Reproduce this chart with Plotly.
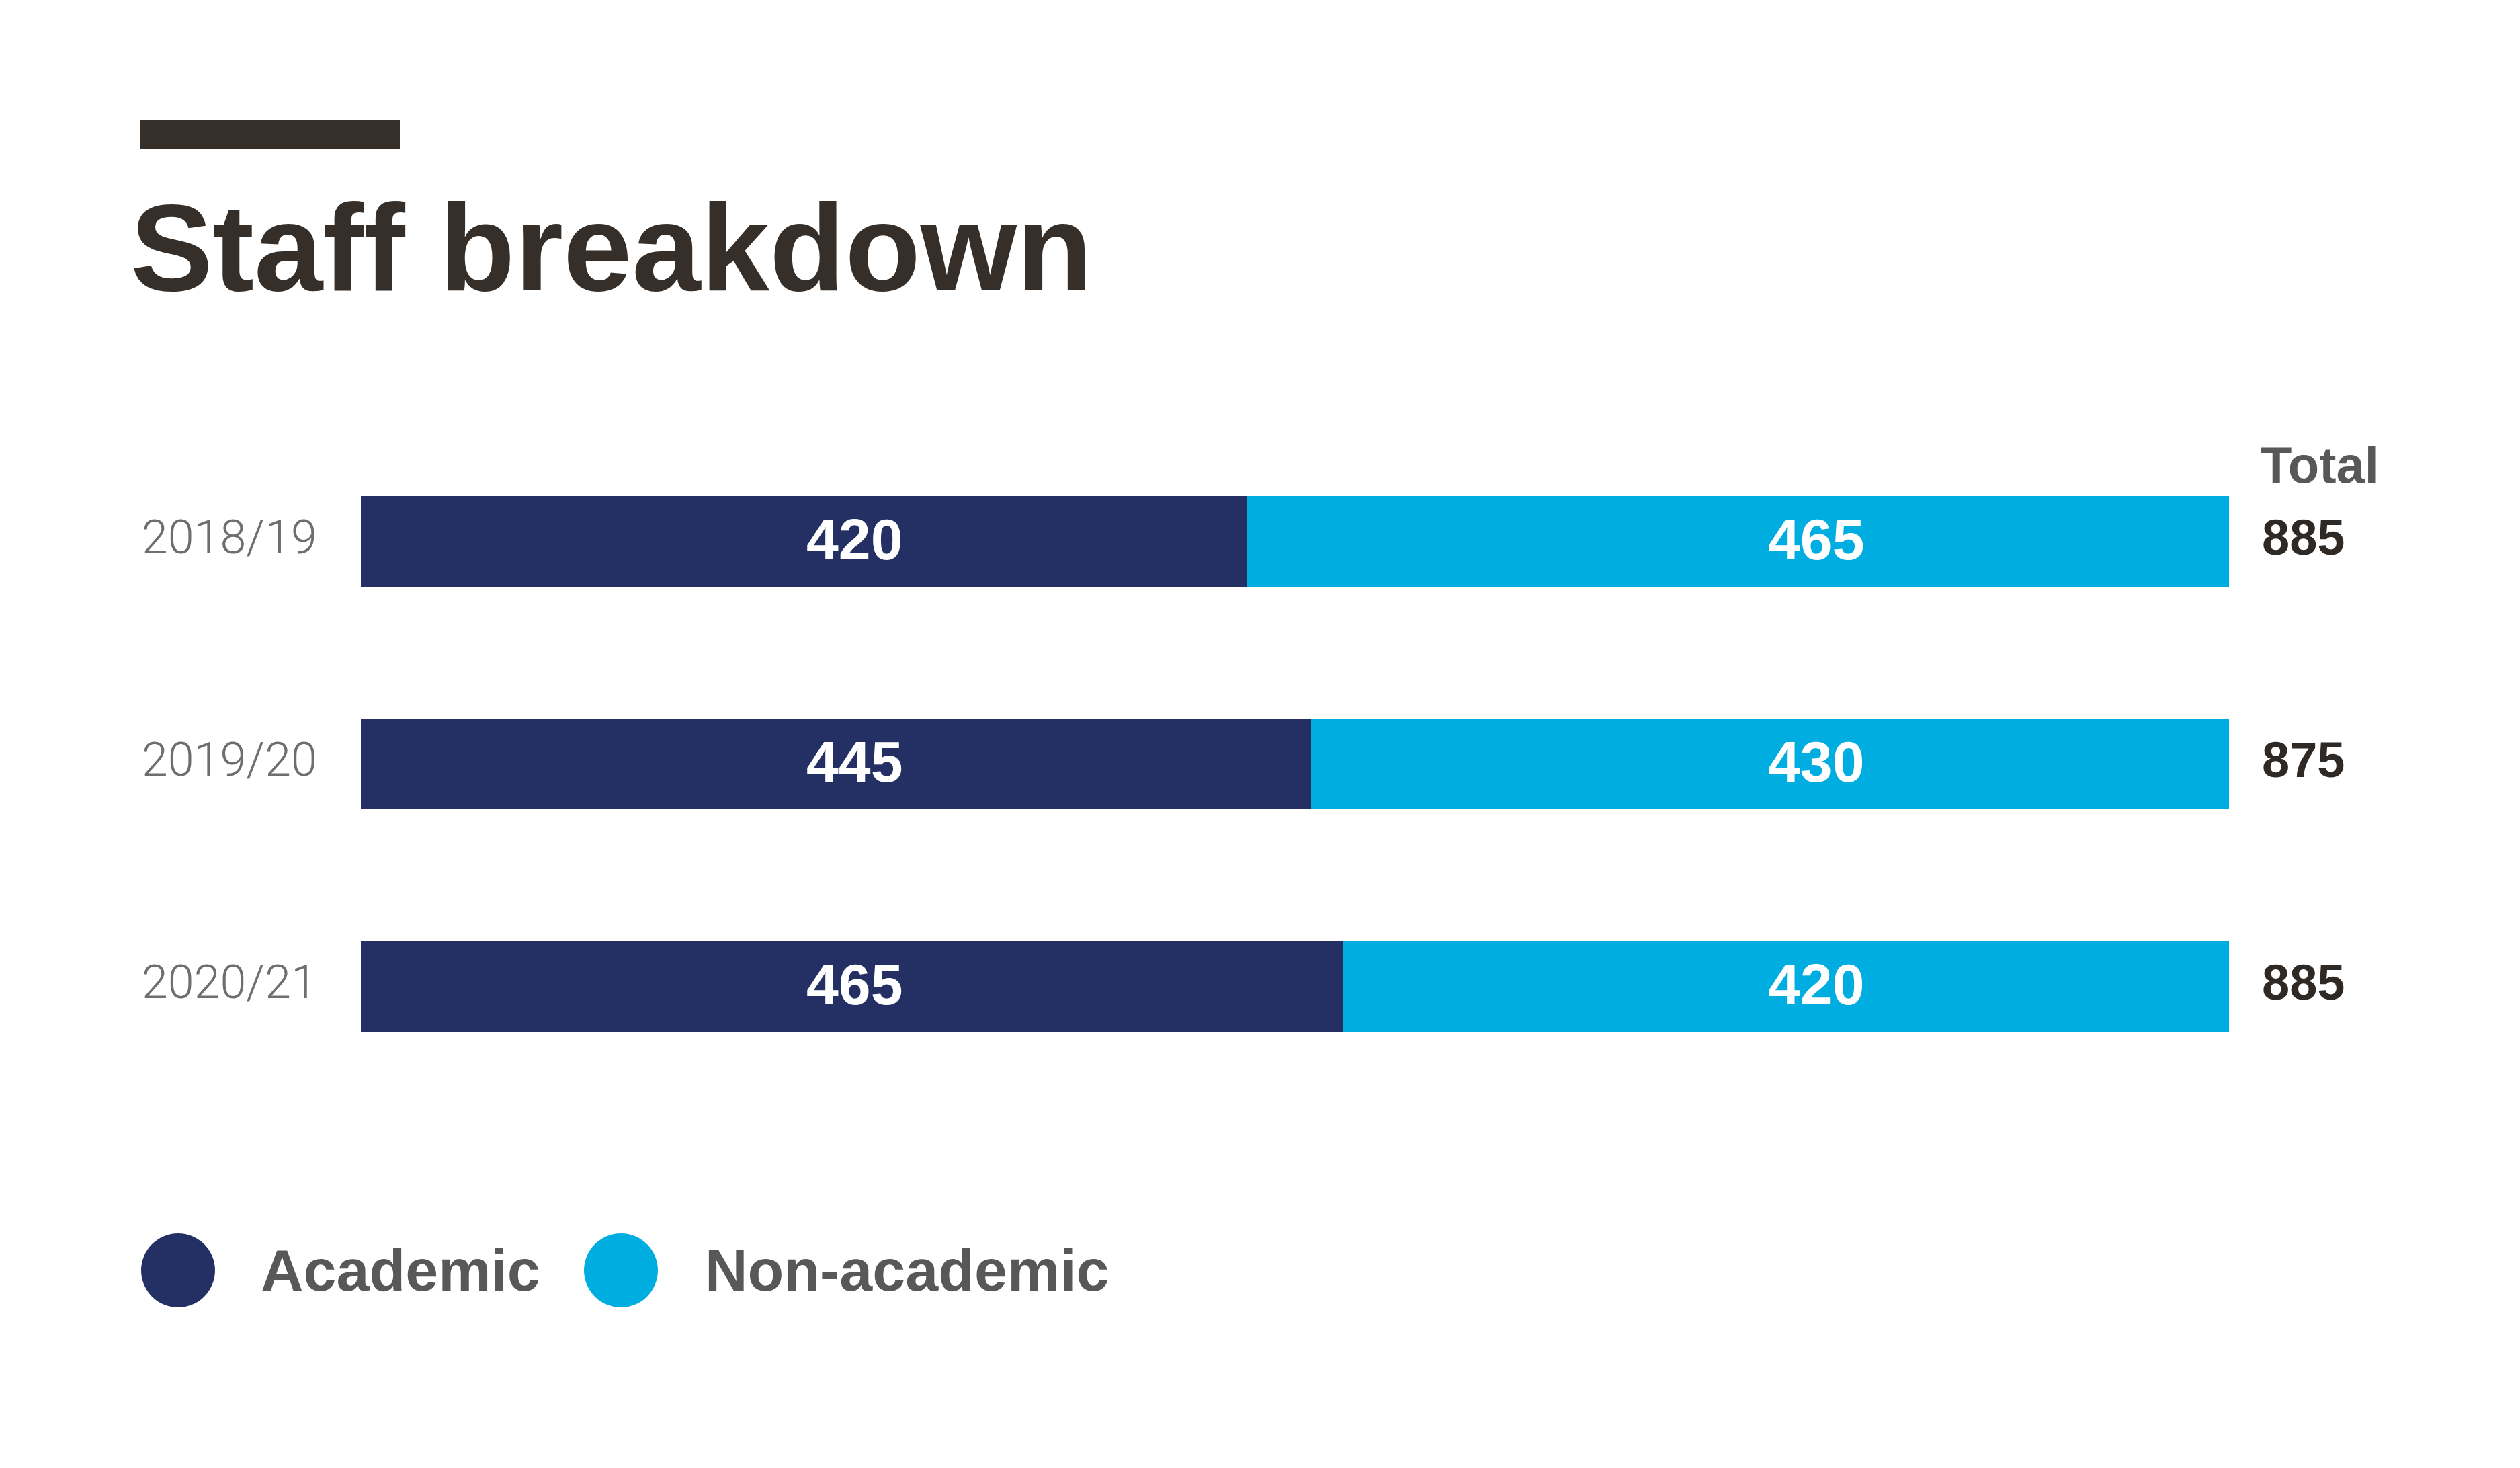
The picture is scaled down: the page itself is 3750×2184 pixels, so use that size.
import plotly.graph_objects as go

## Data
years = ["2018/19", "2019/20", "2020/21"]
academic = [420, 445, 465]
non_academic = [465, 430, 420]
series_names = ["Academic", "Non-academic"]
series_colors = ["#243064", "#00ADE1"]
totals = [a + n for a, n in zip(academic, non_academic)]

## Canvas & plot area (pixels, as measured on the reference)
W, H = 3750, 2184
OFF = 8  # the page body adds an 8px margin, so pull everything back by that much
L, R, T, B = 537 - OFF, 433 + OFF, 640 - OFF, 551 + OFF

def px_x(p):
    # reference pixel x -> paper x
    return (p - OFF - L) / (W - L - R)

def px_y(p):
    # reference pixel y -> paper y
    return (H - B - (p - OFF)) / (H - T - B)

TITLE_COLOR = "#352E29"
GREY = "#585858"

fig = go.Figure()

## --- Stacked bars (normalised to full width) --- ##
for name, vals, col in zip(series_names, [academic, non_academic], series_colors):
    fig.add_trace(go.Bar(
        y=years, x=vals, name=name, orientation="h",
        marker=dict(color=col, line=dict(width=0)),
        showlegend=False, hoverinfo="x+y+name",
    ))

## --- Value labels at fixed positions --- ##
label_pos = [0.2645, 0.779]
for vals, xp in zip([academic, non_academic], label_pos):
    for yr, v in zip(years, vals):
        fig.add_annotation(x=xp, y=yr, xref="x", yref="y", text=f"<b>{v}</b>",
                           showarrow=False, xanchor="center", yanchor="middle", yshift=4,
                           font=dict(size=86, color="white", family="Liberation Sans"))

## --- Year labels --- ##
for yr in years:
    fig.add_annotation(x=px_x(209), y=yr, xref="paper", yref="y", text=yr,
                       showarrow=False, xanchor="left", yanchor="middle", yshift=7,
                       font=dict(size=70, color="#6E6E6E", family="Roboto", weight=300))

## --- Totals column --- ##
fig.add_annotation(x=px_x(3362), y=px_y(691), xref="paper", yref="paper", text="<b>Total</b>",
                   showarrow=False, xanchor="left", yanchor="middle",
                   font=dict(size=76, color=GREY, family="Liberation Sans"))
for yr, t in zip(years, totals):
    fig.add_annotation(x=px_x(3364), y=yr, xref="paper", yref="y", text=f"<b>{t}</b>",
                       showarrow=False, xanchor="left", yanchor="middle", yshift=6,
                       font=dict(size=74, color="#2F2925", family="Liberation Sans"))

## --- Title & accent bar --- ##
fig.add_shape(type="rect", xref="paper", yref="paper",
              x0=px_x(208), x1=px_x(595), y0=px_y(221), y1=px_y(179),
              fillcolor=TITLE_COLOR, line=dict(width=0))
fig.add_annotation(x=px_x(192), y=px_y(368), xref="paper", yref="paper",
                   text="<b>Staff breakdown</b>", showarrow=False,
                   xanchor="left", yanchor="middle",
                   font=dict(size=184, color=TITLE_COLOR, family="Liberation Sans"))

## --- Custom legend (circles + labels) --- ##
legend_circles = [265, 924]
legend_text_x = [389, 1050]
for name, col, cx, tx in zip(series_names, series_colors, legend_circles, legend_text_x):
    fig.add_shape(type="circle", xref="paper", yref="paper",
                  xsizemode="pixel", ysizemode="pixel",
                  xanchor=px_x(cx), yanchor=px_y(1890),
                  x0=-55, x1=55, y0=-55, y1=55,
                  fillcolor=col, line=dict(width=0))
    fig.add_annotation(x=px_x(tx - 3), y=px_y(1889), xref="paper", yref="paper",
                       text=f"<b>{name}</b>", showarrow=False,
                       xanchor="left", yanchor="middle",
                       font=dict(size=88, color=GREY, family="Liberation Sans"))

fig.update_layout(
    width=W, height=H,
    barmode="stack", barnorm="fraction", bargap=0.595,
    plot_bgcolor="white", paper_bgcolor="white",
    margin=dict(l=L, r=R, t=T, b=B),
    font=dict(family="Liberation Sans"),
    xaxis=dict(range=[0, 1], visible=False, fixedrange=True),
    yaxis=dict(autorange="reversed", visible=False, fixedrange=True),
)

fig.write_html("out.html")
